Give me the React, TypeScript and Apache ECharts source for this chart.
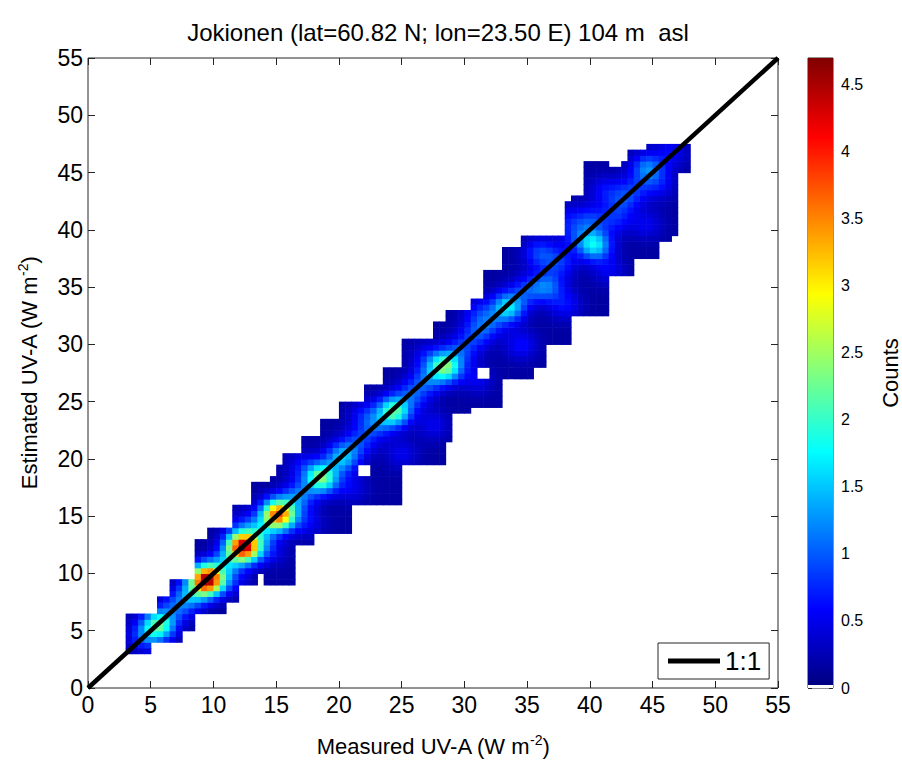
import React, { useEffect, useRef } from "react";
import * as echarts from "echarts";

const FONT = "'Liberation Sans', Arial, sans-serif";
const TITLE = "Jokionen (lat=60.82 N; lon=23.50 E) 104 m  asl";
const X_NAME = "Measured UV-A (W m{sup|-2})";
const Y_NAME = "Estimated UV-A (W m{sup|-2})";
const CBAR_NAME = "Counts";
const LEGEND_LABEL = "1:1";

const AXIS_MIN = 0;
const AXIS_MAX = 55;
const AXIS_STEP = 5;
const CBAR_MIN = 0;
const CBAR_MAX = 4.7;
const CBAR_STEP = 0.5;

// histogram bin size (W m-2)
const CELL = 0.5;

// occupied (non-zero) region of the smoothed 2-D histogram: [yFrom, yTo, xFrom, xTo]
const SUPPORT_BANDS: number[][] = [
  [3.0, 4.0, 3.0, 5.0],
  [4.0, 5.0, 3.0, 7.5],
  [5.0, 6.5, 3.0, 8.5],
  [6.5, 7.5, 5.5, 11.0],
  [7.5, 8.0, 5.5, 12.0],
  [8.0, 9.0, 6.5, 12.0],
  [9.0, 9.5, 6.5, 13.5],
  [9.0, 11.5, 14.0, 16.5],
  [9.5, 10.0, 8.5, 13.5],
  [10.0, 12.5, 8.5, 16.5],
  [12.5, 13.0, 8.5, 18.0],
  [13.0, 13.5, 9.5, 18.0],
  [13.5, 14.0, 9.5, 21.0],
  [14.0, 16.0, 11.5, 21.0],
  [16.0, 18.0, 13.0, 25.0],
  [18.0, 18.5, 14.5, 25.0],
  [18.5, 19.5, 15.0, 21.5],
  [18.5, 19.5, 22.5, 25.0],
  [19.5, 20.5, 15.5, 28.5],
  [20.5, 21.5, 17.0, 28.5],
  [21.5, 22.0, 17.0, 29.0],
  [22.0, 23.5, 18.5, 29.0],
  [23.5, 24.0, 20.0, 29.0],
  [24.0, 24.5, 20.0, 30.5],
  [24.5, 25.0, 20.0, 33.0],
  [25.0, 26.5, 22.0, 33.0],
  [26.5, 27.0, 23.5, 33.0],
  [27.0, 28.0, 23.5, 31.0],
  [27.0, 28.0, 32.0, 35.5],
  [28.0, 30.0, 25.0, 36.5],
  [30.0, 30.5, 25.0, 38.5],
  [30.5, 32.0, 27.5, 38.5],
  [32.0, 32.5, 28.5, 38.5],
  [32.5, 33.0, 28.5, 41.5],
  [33.0, 34.0, 30.5, 41.5],
  [34.0, 36.0, 31.5, 41.5],
  [36.0, 36.5, 31.5, 43.5],
  [36.5, 37.5, 33.0, 43.5],
  [37.5, 38.5, 33.0, 45.5],
  [38.5, 39.0, 34.5, 45.5],
  [39.0, 39.5, 34.5, 46.5],
  [39.5, 42.5, 38.0, 47.0],
  [42.5, 43.0, 38.5, 47.0],
  [43.0, 45.0, 39.5, 47.0],
  [45.0, 45.5, 39.5, 48.0],
  [45.5, 46.0, 39.5, 41.5],
  [45.5, 46.0, 42.5, 48.0],
  [46.0, 47.0, 43.0, 48.0],
  [47.0, 47.5, 44.5, 48.0],
];

// density concentrations: [measured, estimated, peak counts]
const PEAKS: number[][] = [
  [4.6, 4.6, 0.8],
  [5.7, 5.6, 1.9],
  [7.2, 7.2, 0.7],
  [8.3, 8.2, 0.9],
  [9.5, 9.5, 4.4],
  [11.0, 11.0, 0.8],
  [12.4, 12.4, 4.3],
  [13.8, 13.8, 0.8],
  [15.2, 15.2, 3.6],
  [16.8, 16.8, 0.9],
  [18.6, 18.4, 2.2],
  [20.3, 20.2, 1.3],
  [21.6, 21.5, 0.6],
  [22.9, 23.0, 0.7],
  [24.4, 24.2, 2.0],
  [25.9, 25.7, 0.7],
  [27.1, 27.0, 0.7],
  [28.5, 28.1, 2.1],
  [29.8, 29.6, 0.6],
  [31.0, 31.0, 0.6],
  [32.0, 32.0, 0.6],
  [33.5, 33.3, 1.5],
  [35.0, 34.8, 0.6],
  [36.6, 35.1, 0.9],
  [36.0, 38.0, 0.7],
  [37.6, 37.2, 0.6],
  [39.0, 39.5, 0.5],
  [40.4, 38.7, 1.5],
  [40.0, 40.9, 0.6],
  [42.0, 41.0, 0.5],
  [41.2, 43.5, 0.4],
  [42.6, 42.6, 0.5],
  [45.5, 44.0, 0.4],
  [44.6, 45.4, 1.0],
  [46.5, 46.8, 0.4],
  [11.5, 9.5, 0.4],
  [14.5, 12.0, 0.4],
  [17.5, 14.5, 0.4],
  [21.0, 17.5, 0.35],
  [25.0, 20.5, 0.35],
  [27.5, 23.0, 0.35],
  [31.0, 27.0, 0.35],
  [34.5, 30.0, 0.45],
  [38.0, 33.5, 0.45],
  [41.5, 36.5, 0.35],
  [44.5, 40.5, 0.35],
  [43.5, 43.5, 0.45],
  [38.0, 41.0, 0.35],
  [31.0, 33.0, 0.35],
  [27.0, 29.0, 0.35],
  [22.0, 24.0, 0.35],
  [17.0, 19.5, 0.35],
  [12.5, 14.5, 0.3],
];

const BASE_COUNT = 0.16;
const SMOOTH_SIGMA = 0.9;

const ONE_TO_ONE: number[][] = [
  [0, 0],
  [55, 55],
];

function jet(t: number): string {
  const u = Math.max(0, Math.min(1, t));
  const c = (v: number) => Math.round(255 * Math.max(0, Math.min(1, v)));
  return `rgb(${c(1.5 - Math.abs(4 * u - 3))},${c(1.5 - Math.abs(4 * u - 2))},${c(
    1.5 - Math.abs(4 * u - 1)
  )})`;
}

function buildCells(): number[][] {
  const seen = new Set<string>();
  const cells: number[][] = [];
  const s2 = 2 * SMOOTH_SIGMA * SMOOTH_SIGMA;
  for (const [y0, y1, x0, x1] of SUPPORT_BANDS) {
    const iy0 = Math.round(y0 / CELL);
    const iy1 = Math.round(y1 / CELL);
    const ix0 = Math.round(x0 / CELL);
    const ix1 = Math.round(x1 / CELL);
    for (let iy = iy0; iy < iy1; iy++) {
      for (let ix = ix0; ix < ix1; ix++) {
        const k = ix + "_" + iy;
        if (seen.has(k)) continue;
        seen.add(k);
        const cx = (ix + 0.5) * CELL;
        const cy = (iy + 0.5) * CELL;
        let v = BASE_COUNT;
        for (const [px, py, c] of PEAKS) {
          const d2 = (cx - px) * (cx - px) + (cy - py) * (cy - py);
          if (d2 < 9 * SMOOTH_SIGMA * SMOOTH_SIGMA) v += c * Math.exp(-d2 / s2);
        }
        cells.push([ix * CELL, iy * CELL, Math.min(v, CBAR_MAX)]);
      }
    }
  }
  return cells;
}

function colorbarStops() {
  const stops: { offset: number; color: string }[] = [
    { offset: 0, color: "#ffffff" },
    { offset: 0.004, color: "#ffffff" },
    { offset: 0.005, color: jet(0) },
  ];
  for (let i = 1; i <= 32; i++) stops.push({ offset: i / 32, color: jet(i / 32) });
  return stops;
}

const tickStyle = { color: "#262626", width: 1 };
const labelStyle = { color: "#000", fontFamily: FONT };

export default function App() {
  const ref = useRef<HTMLDivElement>(null);
  useEffect(() => {
    if (!ref.current) return;
    const chart = echarts.init(ref.current, undefined, { renderer: "svg" });
    const cells = buildCells();
    const nameStyle = {
      fontSize: 22,
      color: "#000",
      fontFamily: FONT,
      rich: { sup: { fontSize: 14, padding: [0, 0, 12, 0], fontFamily: FONT, color: "#000" } },
    };
    chart.setOption({
      animation: false,
      backgroundColor: "#fff",
      title: {
        text: TITLE,
        left: 433,
        top: 15,
        textAlign: "center",
        textStyle: { fontSize: 24, fontWeight: "normal", color: "#000", fontFamily: FONT },
      },
      legend: {
        data: [{ name: LEGEND_LABEL, icon: "rect" }],
        left: 658,
        top: 643,
        itemWidth: 52,
        itemHeight: 5,
        itemGap: 6,
        textStyle: { fontSize: 26, color: "#000", fontFamily: FONT },
        borderColor: "#262626",
        borderWidth: 1,
        backgroundColor: "#fff",
        padding: [5, 8, 5, 10],
        z: 10,
      },
      grid: [
        { left: 88, top: 58, width: 690, height: 630, show: true, borderColor: "#262626", borderWidth: 1, backgroundColor: "#fff" },
        { left: 808, top: 58, width: 27, height: 630, show: true, borderColor: "#262626", borderWidth: 1 },
      ],
      xAxis: [
        {
          gridIndex: 0,
          type: "value",
          min: AXIS_MIN,
          max: AXIS_MAX,
          interval: AXIS_STEP,
          position: "bottom",
          axisLine: { show: false, onZero: false },
          axisTick: { inside: true, length: 7, lineStyle: tickStyle },
          axisLabel: { ...labelStyle, fontSize: 23, margin: 5 },
          splitLine: { show: false },
          name: X_NAME,
          nameLocation: "middle",
          nameGap: 45,
          nameTextStyle: nameStyle,
        },
        {
          gridIndex: 0,
          type: "value",
          min: AXIS_MIN,
          max: AXIS_MAX,
          interval: AXIS_STEP,
          position: "top",
          axisLine: { show: false, onZero: false },
          axisTick: { inside: true, length: 7, lineStyle: tickStyle },
          axisLabel: { show: false },
          splitLine: { show: false },
        },
        { gridIndex: 1, type: "value", min: 0, max: 1, show: false },
      ],
      yAxis: [
        {
          gridIndex: 0,
          type: "value",
          min: AXIS_MIN,
          max: AXIS_MAX,
          interval: AXIS_STEP,
          position: "left",
          axisLine: { show: false, onZero: false },
          axisTick: { inside: true, length: 7, lineStyle: tickStyle },
          axisLabel: { ...labelStyle, fontSize: 23, margin: 5 },
          splitLine: { show: false },
          name: Y_NAME,
          nameLocation: "middle",
          nameGap: 46,
          nameTextStyle: nameStyle,
        },
        {
          gridIndex: 0,
          type: "value",
          min: AXIS_MIN,
          max: AXIS_MAX,
          interval: AXIS_STEP,
          position: "right",
          axisLine: { show: false, onZero: false },
          axisTick: { inside: true, length: 7, lineStyle: tickStyle },
          axisLabel: { show: false },
          splitLine: { show: false },
        },
        {
          gridIndex: 1,
          type: "value",
          min: CBAR_MIN,
          max: CBAR_MAX,
          interval: CBAR_STEP,
          position: "right",
          axisLine: { show: false, onZero: false },
          axisTick: { inside: true, length: 4, lineStyle: tickStyle },
          axisLabel: { ...labelStyle, fontSize: 16, margin: 8, showMaxLabel: false },
          splitLine: { show: false },
          name: CBAR_NAME,
          nameLocation: "middle",
          nameRotate: 90,
          nameGap: 46,
          nameTextStyle: { fontSize: 22, color: "#000", fontFamily: FONT },
        },
        {
          gridIndex: 1,
          type: "value",
          min: CBAR_MIN,
          max: CBAR_MAX,
          interval: CBAR_STEP,
          position: "left",
          axisLine: { show: false, onZero: false },
          axisTick: { inside: true, length: 4, lineStyle: tickStyle },
          axisLabel: { show: false },
          splitLine: { show: false },
        },
      ],
      series: [
        {
          type: "custom",
          name: "density",
          xAxisIndex: 0,
          yAxisIndex: 0,
          data: cells,
          encode: { x: 0, y: 1 },
          z: 1,
          silent: true,
          renderItem: (_p: any, api: any) => {
            const x0 = api.value(0);
            const y0 = api.value(1);
            const v = api.value(2);
            const a = api.coord([x0, y0]);
            const b = api.coord([x0 + CELL, y0 + CELL]);
            return {
              type: "rect",
              shape: { x: a[0], y: b[1], width: b[0] - a[0] + 0.6, height: a[1] - b[1] + 0.6 },
              style: { fill: jet(v / CBAR_MAX) },
            };
          },
        },
        {
          type: "line",
          name: LEGEND_LABEL,
          xAxisIndex: 0,
          yAxisIndex: 0,
          data: ONE_TO_ONE,
          symbol: "none",
          showSymbol: false,
          lineStyle: { color: "#000", width: 4.5 },
          itemStyle: { color: "#000" },
          z: 5,
        },
        {
          type: "custom",
          name: "colorbar",
          xAxisIndex: 2,
          yAxisIndex: 2,
          data: [[0, CBAR_MAX]],
          silent: true,
          renderItem: (_p: any, api: any) => {
            const a = api.coord([0, CBAR_MIN]);
            const b = api.coord([1, api.value(1)]);
            return {
              type: "rect",
              shape: { x: a[0], y: b[1], width: b[0] - a[0], height: a[1] - b[1] },
              style: { fill: new echarts.graphic.LinearGradient(0, 1, 0, 0, colorbarStops()) },
            };
          },
        },
      ],
    });
    return () => chart.dispose();
  }, []);
  return <div ref={ref} style={{ position: "absolute", left: 0, top: 0, width: 902, height: 766 }} />;
}
